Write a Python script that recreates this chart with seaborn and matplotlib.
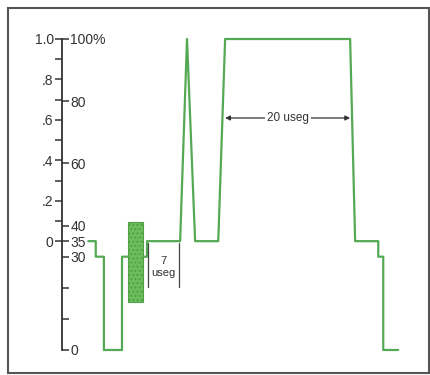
import matplotlib
matplotlib.use("Agg")
import matplotlib.pyplot as plt
from matplotlib.patches import Rectangle
import seaborn as sns
import pandas as pd

# --- data -------------------------------------------------------------
# time (microseconds) and level (percent scale)
time_us = [4.2, 5.4, 5.4, 6.7, 6.7, 9.6, 9.6, 13.6, 13.6, 18.9, 20.0, 21.3,
           25.0, 26.1, 46.1, 46.9, 50.6, 50.6, 51.4, 51.4, 53.8]
level_pct = [35, 35, 30, 30, 0, 0, 30, 30, 35, 35, 100, 35,
             35, 100, 100, 35, 35, 30, 30, 0, 0]

right_ticks = [0, 30, 35, 40, 60, 80, 100]
right_labels = ["0", "30", "35", "40", "60", "80", "100%"]
right_minor = [10, 20]
left_ticks = [0, 0.2, 0.4, 0.6, 0.8, 1.0]
left_labels = ["0", ".2", ".4", ".6", ".8", "1.0"]
left_minor = [0.1, 0.3, 0.5, 0.7, 0.9]

# hatched pulse block
pulse_t = [10.6, 13.0]
pulse_v = [15.4, 41.2]
# annotations
wide_span = [26.1, 46.1]
wide_label = "20 useg"
narrow_span = [13.8, 18.7]
narrow_label = ["7", "useg"]

# --- figure -------------------------------------------------------------
sns.set_theme(style="white")
plt.rcParams["font.family"] = ["Liberation Sans", "DejaVu Sans"]
fig = plt.figure(figsize=(4.30, 3.75), dpi=100)
ax = fig.add_axes([0, 0, 1, 1])
ax.set_facecolor("white")

df = pd.DataFrame({"t": time_us, "v": level_pct})
sns.lineplot(data=df, x="t", y="v", estimator=None, sort=False,
             color="#55a955", lw=1.6, ax=ax)

ax.add_patch(Rectangle((pulse_t[0], pulse_v[0]), pulse_t[1] - pulse_t[0],
                       pulse_v[1] - pulse_v[0], facecolor="#6cbf5a",
                       edgecolor="#4f9e48", hatch="....", lw=0.8, zorder=3))

# 20 useg arrow
ymid = 74.6
ax.annotate("", xy=(wide_span[0], ymid), xytext=(wide_span[1], ymid),
            arrowprops=dict(arrowstyle="<|-|>", color="#333333", lw=0.9,
                            mutation_scale=7, shrinkA=0, shrinkB=0))
ax.text(sum(wide_span) / 2, ymid, wide_label, ha="center", va="center",
        fontsize=8.5, color="#333333",
        bbox=dict(facecolor="white", edgecolor="none", pad=1.5))

# 7 useg marker
for xv in narrow_span:
    ax.plot([xv, xv], [20.3, 34.4], color="#444444", lw=0.9)
xc = sum(narrow_span) / 2
ax.text(xc, 28.6, narrow_label[0], ha="center", va="center", fontsize=8, color="#333333")
ax.text(xc, 24.6, narrow_label[1], ha="center", va="center", fontsize=8, color="#333333")

ax.set_xlim(-9.92, 58.88)
ax.set_ylim(-8.04, 112.54)
for s in ax.spines.values():
    s.set_visible(False)
ax.set_xticks([])
ax.set_yticks([])
ax.set_xlabel("")
ax.set_ylabel("")

pos = 9.92 / (9.92 + 58.88)
sec_r = ax.secondary_yaxis(pos)
sec_r.set_alignment("right")
sec_r.spines["right"].set_bounds(0, 100)
sec_r.spines["right"].set_color("#333333")
sec_r.spines["right"].set_linewidth(1.3)
sec_r.set_yticks(right_ticks, right_labels)
sec_r.set_yticks(right_minor, minor=True)
sec_r.tick_params(axis="y", which="both", direction="out", length=5,
                  width=1.1, color="#333333", labelsize=10, labelcolor="#333333", pad=1)

sec_l = ax.secondary_yaxis(pos, functions=(lambda v: (v - 35) / 65, lambda L: 35 + 65 * L))
sec_l.set_alignment("left")
sec_l.spines["left"].set_visible(False)
sec_l.set_yticks(left_ticks, left_labels)
sec_l.set_yticks(left_minor, minor=True)
sec_l.tick_params(axis="y", which="both", direction="out", length=5,
                  width=1.1, color="#333333", labelsize=10, labelcolor="#333333", pad=1)

fig.patches.append(Rectangle((8 / 430, 2 / 375), 0.978, 0.9733, transform=fig.transFigure,
                             fill=False, edgecolor="#555555", lw=1.5, figure=fig))

fig.savefig("out.png", dpi=100)
